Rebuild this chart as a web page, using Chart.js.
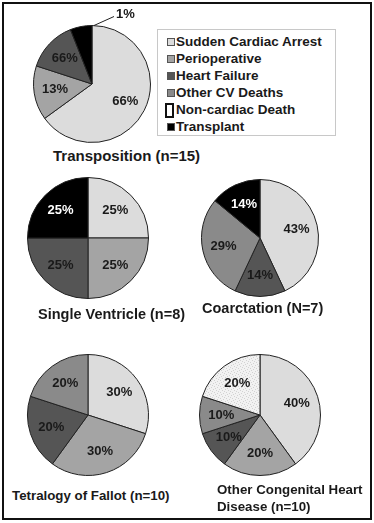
<html lang="en">
<head>
<meta charset="UTF-8">
<title>Causes of death</title>
<script src="https://cdn.jsdelivr.net/npm/chart.js@4.4.0/dist/chart.umd.min.js"></script>
<style>
  body { margin: 0; background: #fff; }
  #page { position: relative; width: 374px; height: 523px; overflow: hidden;
          font-family: "Liberation Sans", Arial, sans-serif; font-weight: bold; color: #1a1a1a; }
  #frame { position: absolute; left: 2px; top: 2px; width: 366px; height: 514px; border: 2px solid #111; }
  canvas { position: absolute; }
  .ttl { position: absolute; white-space: nowrap; line-height: 17px; }
  #legend { position: absolute; left: 157px; top: 29px; width: 179px; height: 107px;
            border: 1px solid #c8c8c8; box-sizing: border-box; padding-top: 3px; }
  #legend div { height: 17px; line-height: 17px; font-size: 13.5px; padding-left: 18px; position: relative; }
  #legend span { position: absolute; left: 9px; top: 5px; width: 6px; height: 6px; border: 1px solid #555; }
</style>
</head>
<body>
<div id="page">
  <div id="frame"></div>
  <div id="legend"></div>
</div>

<script>
// categories
var categories = ['Sudden Cardiac Arrest', 'Perioperative', 'Heart Failure', 'Other CV Deaths', 'Non-cardiac Death', 'Transplant'];
var colors = ['#dcdcdc', '#a4a4a4', '#555555', '#8a8a8a', 'pattern', '#000000'];

// series (share of deaths)
var transposition   = [65, 15, 14, 0, 0, 6];
var singleVentricle = [25, 25, 25, 0, 0, 25];
var coarctation     = [43, 0, 14, 29, 0, 14];
var tetralogy       = [30, 30, 20, 20, 0, 0];
var otherChd        = [40, 20, 10, 10, 20, 0];

// printed labels (as they appear in the figure)
var transpositionLabels   = ['66%', '13%', '66%', '', '', '1%'];
var singleVentricleLabels = ['25%', '25%', '25%', '', '', '25%'];
var coarctationLabels     = ['43%', '', '14%', '29%', '', '14%'];
var tetralogyLabels       = ['30%', '30%', '20%', '20%', '', ''];
var otherChdLabels        = ['40%', '20%', '10%', '10%', '20%', ''];

var titles = ['Transposition (n=15)', 'Single Ventricle (n=8)', 'Coarctation (N=7)',
              'Tetralogy of Fallot (n=10)', 'Other Congenital Heart\nDisease (n=10)'];

// speckled fill for non-cardiac death
function speckle() {
    var c = document.createElement('canvas');
    c.width = 6; c.height = 6;
    var g = c.getContext('2d');
    g.fillStyle = '#f2f2f2';
    g.fillRect(0, 0, 6, 6);
    g.fillStyle = '#d2d2d2';
    [[0, 0], [3, 1], [1, 3], [4, 4], [5, 2], [2, 5]].forEach(function (p) { g.fillRect(p[0], p[1], 1, 1); });
    return g.createPattern(c, 'repeat');
}
var pattern = speckle();
var fills = colors.map(function (c) { return c == 'pattern' ? pattern : c; });

// legend
var leg = document.getElementById('legend');
categories.forEach(function (name, i) {
    var row = document.createElement('div');
    var sw = document.createElement('span');
    if (colors[i] == 'pattern') {
        sw.style.cssText = 'background:#fff;border:2px solid #111;width:5px;height:11px;top:2px;left:7px';
    } else {
        sw.style.background = colors[i];
    }
    row.appendChild(sw);
    row.appendChild(document.createTextNode(name));
    leg.appendChild(row);
});

// slice labels
var sliceLabels = {
    id: 'sliceLabels',
    afterDatasetsDraw: function (chart) {
        var ctx = chart.ctx;
        var labels = chart.options.plugins.sliceLabels.labels;
        var outside = chart.options.plugins.sliceLabels.outside;
        var meta = chart.getDatasetMeta(0);
        ctx.save();
        ctx.font = 'bold 13px "Liberation Sans", Arial, sans-serif';
        ctx.textAlign = 'center';
        ctx.textBaseline = 'middle';
        meta.data.forEach(function (arc, i) {
            if (!labels[i]) return;
            var p = arc.getProps(['x', 'y', 'startAngle', 'endAngle', 'outerRadius'], true);
            if (i === outside) {
                var ex = p.x + p.outerRadius * Math.cos(p.endAngle);
                var ey = p.y + p.outerRadius * Math.sin(p.endAngle);
                ctx.strokeStyle = '#222';
                ctx.lineWidth = 1;
                ctx.beginPath();
                ctx.moveTo(ex + 2, ey);
                ctx.lineTo(ex + 22, ey - 9);
                ctx.stroke();
                ctx.fillStyle = '#1a1a1a';
                ctx.textAlign = 'left';
                ctx.fillText(labels[i], ex + 24, ey - 11);
                ctx.textAlign = 'center';
                return;
            }
            var mid = (p.startAngle + p.endAngle) / 2;
            var rr = p.outerRadius * 0.64;
            ctx.fillStyle = colors[i] == '#000000' ? '#fff' : '#1a1a1a';
            ctx.fillText(labels[i], p.x + rr * Math.cos(mid), p.y + rr * Math.sin(mid));
        });
        ctx.restore();
    }
};

// one pie: values, labels, canvas box and pie centre / radius
function makePie(values, labels, box, cx, cy, r, outside) {
    var cv = document.createElement('canvas');
    cv.width = box[2]; cv.height = box[3];
    cv.style.left = box[0] + 'px'; cv.style.top = box[1] + 'px';
    document.getElementById('page').appendChild(cv);
    var half = r + 1;
    new Chart(cv, {
        type: 'pie',
        data: {
            labels: categories,
            datasets: [{ data: values, backgroundColor: fills, borderColor: '#222', borderWidth: 1 }]
        },
        options: {
            responsive: false,
            animation: false,
            events: [],
            layout: { padding: {
                left: cx - half - box[0], top: cy - half - box[1],
                right: box[0] + box[2] - (cx + half), bottom: box[1] + box[3] - (cy + half)
            } },
            plugins: {
                legend: { display: false },
                tooltip: { enabled: false },
                sliceLabels: { labels: labels, outside: outside }
            }
        },
        plugins: [sliceLabels]
    });
}

makePie(transposition,   transpositionLabels,   [10, 5, 150, 142],  92, 84, 58, 5);
makePie(singleVentricle, singleVentricleLabels, [20, 170, 140, 140], 88, 238, 60, -1);
makePie(coarctation,     coarctationLabels,     [195, 170, 140, 140], 260, 238, 58, -1);
makePie(tetralogy,       tetralogyLabels,       [20, 347, 140, 140], 88, 415, 60, -1);
makePie(otherChd,        otherChdLabels,        [195, 347, 140, 140], 260, 415, 60, -1);

// titles
var titlePos = [[53, 147, 15], [38, 306, 14.5], [202, 300, 14.5], [12, 487, 13.3], [217, 481, 13.3]];
titles.forEach(function (t, i) {
    var d = document.createElement('div');
    d.className = 'ttl';
    d.style.left = titlePos[i][0] + 'px';
    d.style.top = titlePos[i][1] + 'px';
    d.style.fontSize = titlePos[i][2] + 'px';
    d.innerHTML = t.replace('\n', '<br>');
    document.getElementById('page').appendChild(d);
});
</script>
</body>
</html>
